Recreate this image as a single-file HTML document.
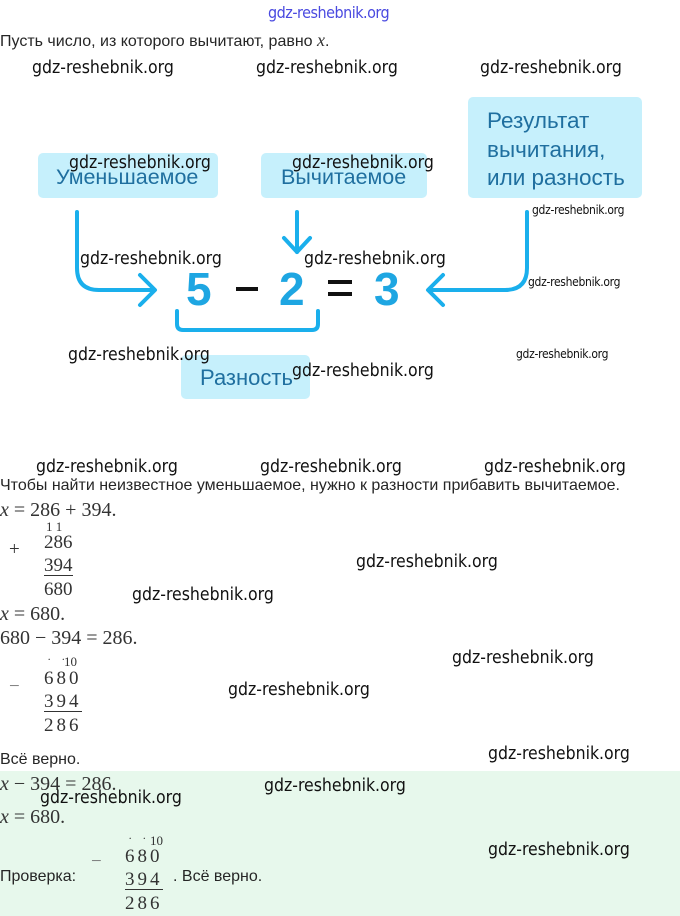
<!DOCTYPE html>
<html><head><meta charset="utf-8"><style>
body{margin:0;width:680px;height:916px;position:relative;overflow:hidden;background:#fff;font-family:"Liberation Sans",sans-serif;}
.a{position:absolute;white-space:nowrap;}
.w{position:absolute;white-space:nowrap;font-family:"DejaVu Sans Condensed","Liberation Sans",sans-serif;font-size:17.5px;color:#111;line-height:1;}
.ws{position:absolute;white-space:nowrap;font-family:"DejaVu Sans Condensed","Liberation Sans",sans-serif;font-size:12px;color:#111;line-height:1;letter-spacing:-0.3px}
.t{font-size:16px;color:#262626;line-height:1;}
.m{font-family:"Liberation Serif",serif;font-size:20px;color:#333;line-height:1;}
.c{font-family:"Liberation Serif",serif;font-size:19px;color:#333;line-height:1;}
.box{position:absolute;background:#c6f0fc;border-radius:5px;}
.bt{position:absolute;color:#1f6f9f;font-size:21.5px;line-height:1;white-space:nowrap;}
.big{position:absolute;font-size:46px;font-weight:bold;color:#1ea6e2;line-height:1;}
.u{border-bottom:1px solid #333;}
</style></head><body>
<div style="position:absolute;left:0;top:771px;width:680px;height:145px;background:#e7f8ec"></div>
<div class="a" style="left:268px;top:3px;font-size:16px;color:#4a4ae0;font-family:'DejaVu Sans Condensed',sans-serif;letter-spacing:-0.5px">gdz-reshebnik.org</div>
<div class="a t" style="left:0;top:31px">Пусть число, из которого вычитают, равно <i class="m" style="font-size:18px">x</i>.</div>

<div class="box" style="left:38px;top:153px;width:180px;height:45px"></div>
<div class="bt" style="left:56px;top:167px">Уменьшаемое</div>
<div class="box" style="left:261px;top:153px;width:166px;height:45px"></div>
<div class="bt" style="left:281px;top:167px">Вычитаемое</div>
<div class="box" style="left:468px;top:97px;width:174px;height:101px"></div>
<div class="bt" style="left:487px;top:107px;line-height:28.5px;font-size:22.5px">Результат<br>вычитания,<br>или разность</div>
<div class="box" style="left:181px;top:355px;width:129px;height:44px"></div>
<div class="bt" style="left:200px;top:367px;font-size:22px">Разность</div>

<svg style="position:absolute;left:0;top:0" width="680" height="420">
<g fill="none" stroke="#1aafec" stroke-width="4" stroke-linecap="round" stroke-linejoin="round">
<path d="M77 212 V268 Q77 290 99 290 H152"/><path d="M140 275 L155 290 L140 305"/>
<path d="M297 212 V252"/><path d="M284 238 L297 252 L310 238"/>
<path d="M527 212 V268 Q527 290 505 290 H430"/><path d="M443 275 L428 290 L443 305"/>
<path d="M177 311 V324 Q177 330 183 330 H312 Q318 330 318 324 V311"/>
</g>
<rect x="236" y="287" width="22" height="4" fill="#111"/>
<rect x="328" y="280" width="24" height="4" fill="#111"/>
<rect x="328" y="292" width="24" height="4" fill="#111"/>
</svg>
<div class="big" style="left:186px;top:266px">5</div>
<div class="big" style="left:279px;top:266px">2</div>
<div class="big" style="left:374px;top:266px">3</div>

<div class="w" style="left:32px;top:60px">gdz-reshebnik.org</div>
<div class="w" style="left:256px;top:60px">gdz-reshebnik.org</div>
<div class="w" style="left:480px;top:60px">gdz-reshebnik.org</div>
<div class="w" style="left:69px;top:155px">gdz-reshebnik.org</div>
<div class="w" style="left:292px;top:155px">gdz-reshebnik.org</div>
<div class="ws" style="left:532px;top:204px">gdz-reshebnik.org</div>
<div class="w" style="left:80px;top:251px">gdz-reshebnik.org</div>
<div class="w" style="left:304px;top:251px">gdz-reshebnik.org</div>
<div class="ws" style="left:528px;top:276px">gdz-reshebnik.org</div>
<div class="w" style="left:68px;top:347px">gdz-reshebnik.org</div>
<div class="ws" style="left:516px;top:348px">gdz-reshebnik.org</div>
<div class="w" style="left:292px;top:363px">gdz-reshebnik.org</div>

<div class="w" style="left:36px;top:459px">gdz-reshebnik.org</div>
<div class="w" style="left:260px;top:459px">gdz-reshebnik.org</div>
<div class="w" style="left:484px;top:459px">gdz-reshebnik.org</div>
<div class="a t" style="left:0;top:478px">Чтобы найти неизвестное уменьшаемое, нужно к разности прибавить вычитаемое.</div>
<div class="a m" style="left:0;top:500px"><i>x</i> = 286 + 394.</div>
<div class="a c" style="left:46px;top:520px;font-size:13px">1 1</div>
<div class="a c" style="left:44px;top:533px">286</div>
<div class="a c" style="left:9px;top:540px">+</div>
<div class="a c u" style="left:44px;top:556px">394</div>
<div class="a c" style="left:44px;top:580px">680</div>
<div class="a m" style="left:0;top:604px"><i>x</i> = 680.</div>
<div class="a m" style="left:0;top:628px">680 − 394 = 286.</div>
<div class="a c" style="left:64px;top:655px;font-size:13px">10</div>
<div class="a c" style="left:47px;top:656px;font-size:13px">˙&nbsp;&nbsp;&nbsp;˙</div>
<div class="a c" style="left:44px;top:669px;letter-spacing:3px">680</div>
<div class="a c" style="left:9px;top:677px;color:#777">−</div>
<div class="a c u" style="left:44px;top:692px;letter-spacing:3px">394</div>
<div class="a c" style="left:44px;top:716px;letter-spacing:3px">286</div>
<div class="a t" style="left:0;top:752px">Всё верно.</div>
<div class="a m" style="left:0;top:774px"><i>x</i> − 394 = 286.</div>
<div class="a m" style="left:0;top:807px"><i>x</i> = 680.</div>
<div class="a c" style="left:150px;top:834px;font-size:13px">10</div>
<div class="a c" style="left:128px;top:835px;font-size:13px">˙&nbsp;&nbsp;&nbsp;˙</div>
<div class="a c" style="left:125px;top:847px;letter-spacing:3px">680</div>
<div class="a c" style="left:91px;top:852px;color:#777">−</div>
<div class="a t" style="left:0;top:869px">Проверка:</div>
<div class="a c u" style="left:125px;top:870px;letter-spacing:3px">394</div>
<div class="a t" style="left:173px;top:869px">. Всё верно.</div>
<div class="a c" style="left:125px;top:894px;letter-spacing:3px">286</div>

<div class="w" style="left:356px;top:554px">gdz-reshebnik.org</div>
<div class="w" style="left:132px;top:587px">gdz-reshebnik.org</div>
<div class="w" style="left:452px;top:650px">gdz-reshebnik.org</div>
<div class="w" style="left:228px;top:682px">gdz-reshebnik.org</div>
<div class="w" style="left:488px;top:746px">gdz-reshebnik.org</div>
<div class="w" style="left:264px;top:778px">gdz-reshebnik.org</div>
<div class="w" style="left:40px;top:790px">gdz-reshebnik.org</div>
<div class="w" style="left:488px;top:842px">gdz-reshebnik.org</div>
</body></html>
